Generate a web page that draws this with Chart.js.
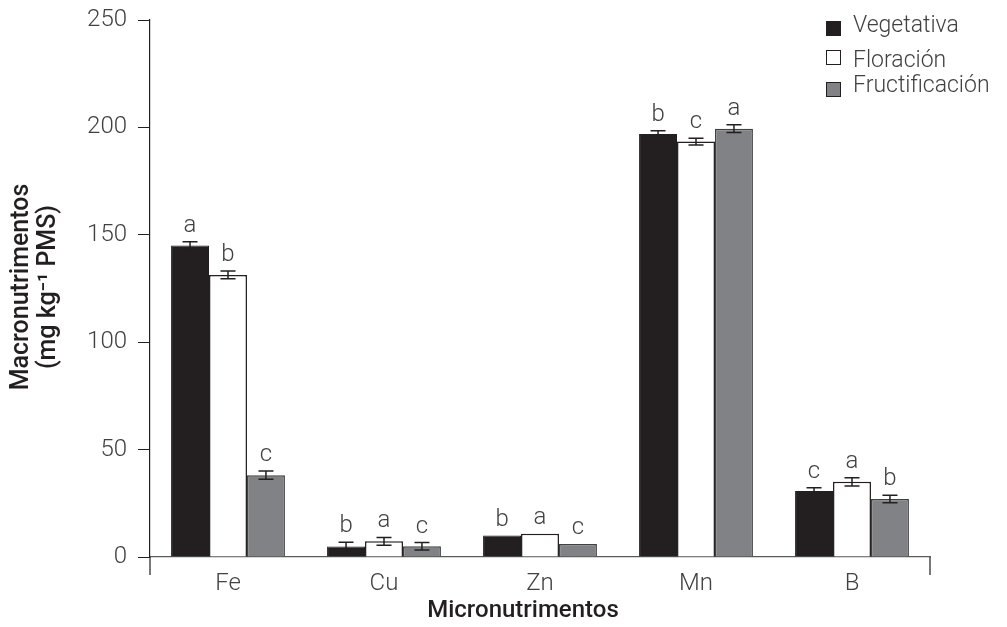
<!DOCTYPE html>
<html>
<head>
<meta charset="utf-8">
<script src="https://cdn.jsdelivr.net/npm/chart.js@4.4.1/dist/chart.umd.min.js"></script>
<style>
  html, body { margin: 0; padding: 0; background: #fff; }
  #chart { display: block; }
</style>
</head>
<body>
<canvas id="chart" width="1007" height="627"></canvas>
<script>
// Data
const categories = ["Fe", "Cu", "Zn", "Mn", "B"];
const seriesNames = ["Vegetativa", "Floración", "Fructificación"];

const vegetativa = [145, 4.9, 10, 196.9, 30.7];
const floracion = [131.3, 7.3, 10.8, 193.4, 35];
const fructificacion = [38.1, 5, 6, 199.4, 27];

const errVegetativa = [1.8, 2, 0, 1.5, 1.5];
const errFloracion = [1.8, 1.8, 0, 1.6, 1.9];
const errFructificacion = [1.9, 1.7, 0, 1.8, 1.8];

const lettersVegetativa = ["a", "b", "b", "b", "c"];
const lettersFloracion = ["b", "a", "a", "c", "a"];
const lettersFructificacion = ["c", "c", "c", "a", "b"];

const yTicks = [0, 50, 100, 150, 200, 250];
const yTitle = ["Macronutrimentos", "(mg kg⁻¹ PMS)"];
const xTitle = "Micronutrimentos";

const DARK = "#231f20";
const GREY = "#808285";
const TEXT = "#414042";
const FONT = "Roboto";

// error bars + significance letters, drawn through the scales
const errorBarPlugin = {
    id: "errorBars",
    afterDatasetsDraw(chart) {
        const { ctx, scales: { y } } = chart;
        chart.data.datasets.forEach((ds, di) => {
            const meta = chart.getDatasetMeta(di);
            meta.data.forEach((bar, i) => {
                const v = ds.data[i];
                const e = ds.errors[i];
                const yTop = y.getPixelForValue(v + e);
                if (e > 0) {
                    const yBot = y.getPixelForValue(v - e);
                    ctx.save();
                    ctx.strokeStyle = DARK;
                    ctx.lineWidth = 1.5;
                    ctx.beginPath();
                    ctx.moveTo(bar.x, yTop);
                    ctx.lineTo(bar.x, yBot);
                    ctx.moveTo(bar.x - 7.5, yTop);
                    ctx.lineTo(bar.x + 7.5, yTop);
                    ctx.moveTo(bar.x - 7.5, yBot);
                    ctx.lineTo(bar.x + 7.5, yBot);
                    ctx.stroke();
                    ctx.restore();
                }
                ctx.save();
                ctx.fillStyle = TEXT;
                ctx.font = `300 24px ${FONT}`;
                ctx.textAlign = "center";
                ctx.textBaseline = "alphabetic";
                ctx.fillText(ds.letters[i], bar.x, yTop - 10);
                ctx.restore();
            });
        });
    },
};

// axis titles, axis end ticks and the vertical legend at top right
const decorPlugin = {
    id: "decor",
    afterDraw(chart) {
        const { ctx, chartArea } = chart;
        ctx.save();
        ctx.strokeStyle = DARK;
        ctx.lineWidth = 1.2;
        ctx.beginPath();
        ctx.moveTo(chartArea.left, chartArea.bottom);
        ctx.lineTo(chartArea.left, chartArea.bottom + 18);
        ctx.moveTo(chartArea.right, chartArea.bottom);
        ctx.lineTo(chartArea.right, chartArea.bottom + 18);
        ctx.stroke();

        // titles
        ctx.fillStyle = DARK;
        ctx.font = `500 24px ${FONT}`;
        ctx.textAlign = "center";
        ctx.textBaseline = "middle";
        ctx.fillText(xTitle, 523, 611);
        ctx.save();
        ctx.translate(0, 287);
        ctx.rotate(-Math.PI / 2);
        ctx.font = `500 25px ${FONT}`;
        ctx.fillText(yTitle[0], 0, 22);
        ctx.fillText(yTitle[1], 0, 49);
        ctx.restore();

        // legend
        const x0 = 826;
        const boxRows = [28, 57, 89];
        const textRows = [26, 61, 86];
        chart.data.datasets.forEach((ds, i) => {
            const cy = boxRows[i];
            ctx.fillStyle = ds.backgroundColor;
            ctx.fillRect(x0, cy - 7, 15, 15);
            ctx.strokeStyle = DARK;
            ctx.lineWidth = 1;
            ctx.strokeRect(x0 + 0.5, cy - 6.5, 14, 14);
            ctx.fillStyle = TEXT;
            ctx.font = `300 23px ${FONT}`;
            ctx.textAlign = "left";
            ctx.textBaseline = "middle";
            ctx.fillText(ds.label, 853, textRows[i]);
        });
        ctx.restore();
    },
};

new Chart(document.getElementById("chart"), {
    type: "bar",
    data: {
        labels: categories,
        datasets: [
            {
                label: seriesNames[0],
                data: vegetativa,
                errors: errVegetativa,
                letters: lettersVegetativa,
                backgroundColor: DARK,
                borderColor: DARK,
                borderWidth: 1,
            },
            {
                label: seriesNames[1],
                data: floracion,
                errors: errFloracion,
                letters: lettersFloracion,
                backgroundColor: "#ffffff",
                borderColor: DARK,
                borderWidth: 1.5,
            },
            {
                label: seriesNames[2],
                data: fructificacion,
                errors: errFructificacion,
                letters: lettersFructificacion,
                backgroundColor: GREY,
                borderColor: TEXT,
                borderWidth: 1.5,
            },
        ],
    },
    options: {
        responsive: false,
        animation: false,
        categoryPercentage: 0.73,
        barPercentage: 1,
        layout: { padding: { top: 20, right: 77, left: 0, bottom: 0 } },
        plugins: {
            legend: { display: false },
            tooltip: { enabled: false },
        },
        scales: {
            x: {
                grid: { display: false, drawTicks: false },
                border: { display: true, color: "#58595b", width: 1.2 },
                ticks: {
                    color: TEXT,
                    font: { family: FONT, size: 24, weight: 300 },
                    padding: 13,
                },
                afterFit(scale) { scale.height = 70; },
            },
            y: {
                min: 0,
                max: 250,
                afterBuildTicks(scale) { scale.ticks = yTicks.map((v) => ({ value: v })); },
                grid: { drawOnChartArea: false, drawTicks: true, tickLength: 12, color: DARK },
                border: { display: true, color: DARK, width: 1.2 },
                ticks: {
                    color: TEXT,
                    font: { family: FONT, size: 24, weight: 300 },
                    padding: 11,
                },
                afterFit(scale) {
                    scale.width = 150;
                    scale.paddingTop = 0;
                    scale.paddingBottom = 0;
                },
            },
        },
    },
    plugins: [errorBarPlugin, decorPlugin],
});
</script>
</body>
</html>
